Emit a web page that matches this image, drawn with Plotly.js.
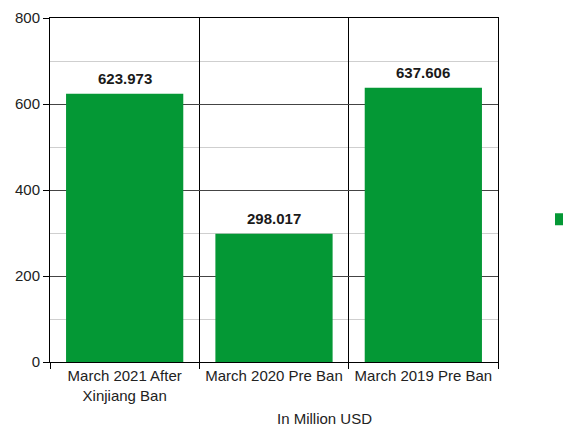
<!DOCTYPE html>
<html>
<head>
<meta charset="utf-8">
<script src="https://cdn.plot.ly/plotly-3.0.1.min.js"></script>
<style>html,body{margin:0;padding:0;background:#fff;}#chart{width:563px;height:428px;}</style>
</head>
<body>
<div id="chart"></div>
<script>
const categories = ["March 2021 After<br>Xinjiang Ban", "March 2020 Pre Ban", "March 2019 Pre Ban"];
const values = [623.973, 298.017, 637.606];
const valueLabels = ["623.973", "298.017", "637.606"];
const yTicks = [0, 200, 400, 600, 800];
const axisTitle = "In Million USD";

const green = "#049835";
const font = {family: "Liberation Sans, Arial, sans-serif", size: 15, color: "#222"};

const trace = {
  type: "bar",
  x: categories,
  y: values,
  name: " ",
  width: 0.785,
  marker: {color: green},
  showlegend: true,
  hoverinfo: "none"
};

const annotations = categories.map((c, i) => ({
  x: c, y: values[i], xref: "x", yref: "y",
  text: "<b>" + valueLabels[i] + "</b>",
  showarrow: false, yanchor: "middle", yshift: 15,
  font: {family: font.family, size: 15, color: "#1a1a1a"}
}));
annotations.push({
  x: 0.612, y: -0.163, xref: "paper", yref: "paper",
  text: axisTitle, showarrow: false, xanchor: "center", yanchor: "middle",
  font: {family: font.family, size: 15, color: "#222"}
});

const layout = {
  width: 563, height: 428,
  margin: {l: 50, r: 65, t: 18, b: 66, autoexpand: false},
  paper_bgcolor: "#fff", plot_bgcolor: "#fff",
  font: font,
  showlegend: true,
  legend: {x: 1.096, y: 0.414, xanchor: "left", yanchor: "middle", font: {size: 14}, bgcolor: "rgba(0,0,0,0)"},
  xaxis: {
    type: "category",
    tickson: "boundaries",
    ticks: "outside", ticklen: 6, tickcolor: "#000", tickwidth: 1,
    showgrid: true, gridcolor: "#000", gridwidth: 1,
    showline: true, linecolor: "#000", linewidth: 1, mirror: true,
    tickfont: font, zeroline: false
  },
  yaxis: {
    range: [0, 800],
    tickvals: yTicks,
    ticks: "outside", ticklen: 6, tickcolor: "#000", tickwidth: 1,
    showgrid: true, gridcolor: "#444", gridwidth: 1,
    minor: {dtick: 100, showgrid: true, gridcolor: "#cfcfcf", gridwidth: 1, ticks: ""},
    showline: true, linecolor: "#000", linewidth: 1, mirror: true,
    zeroline: true, zerolinecolor: "#000", zerolinewidth: 1,
    tickfont: font
  },
  annotations: annotations
};

Plotly.newPlot("chart", [trace], layout, {displayModeBar: false, staticPlot: true});
</script>
</body>
</html>
